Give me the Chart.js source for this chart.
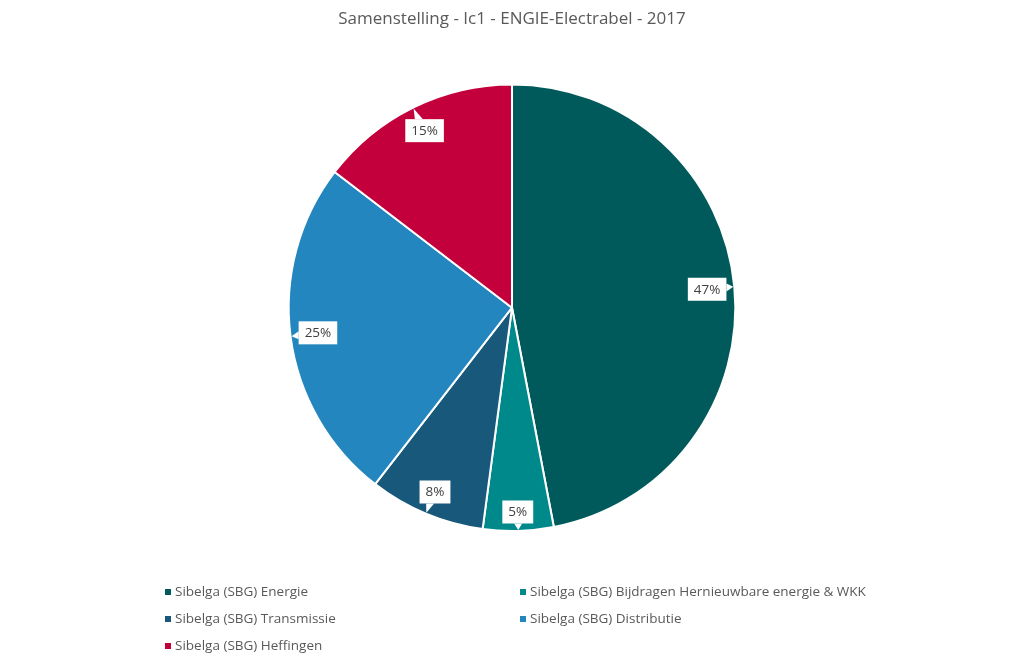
<!DOCTYPE html>
<html>
<head>
<meta charset="utf-8">
<script src="https://cdn.jsdelivr.net/npm/chart.js@4.4.1/dist/chart.umd.min.js"></script>
<style>
  html, body { margin: 0; padding: 0; background: #fff; }
  #wrap { width: 1024px; height: 666px; position: relative; }
</style>
</head>
<body>
<div id="wrap"><canvas id="mycanvas" width="1024" height="666"></canvas></div>
<script>
// data (percent)
var categories = [
	"Sibelga (SBG) Energie",
	"Sibelga (SBG) Bijdragen Hernieuwbare energie & WKK",
	"Sibelga (SBG) Transmissie",
	"Sibelga (SBG) Distributie",
	"Sibelga (SBG) Heffingen"
];
var shares = [47.0, 5.1, 8.4, 24.9, 14.6];
var colors = ["#005a5b", "#00898b", "#18587b", "#2386bf", "#c4003c"];
var chartTitle = "Samenstelling - Ic1 - ENGIE-Electrabel - 2017";

var FONT = "'Open Sans', 'Noto Sans', sans-serif";

// white callout boxes with the rounded percent
var calloutPlugin = {
	id: "callouts",
	afterDatasetsDraw: function(chart) {
		var ctx = chart.ctx;
		var meta = chart.getDatasetMeta(0);
		var total = shares.reduce(function(a, b) { return a + b; }, 0);
		ctx.save();
		ctx.font = "13.5px " + FONT;
		ctx.textAlign = "center";
		ctx.textBaseline = "middle";
		meta.data.forEach(function(arc, i) {
			var p = arc.getProps(["x", "y", "startAngle", "endAngle", "outerRadius"], true);
			var mid = (p.startAngle + p.endAngle) / 2;
			var ux = Math.cos(mid), uy = Math.sin(mid);
			var txt = Math.round(shares[i] / total * 100) + "%";
			var hw = (ctx.measureText(txt).width + 12) / 2;
			var hh = 11.5;
			var proj = Math.abs(ux) * hw + Math.abs(uy) * hh;
			var rl = p.outerRadius - 7 - proj;
			var cx = p.x + ux * rl, cy = p.y + uy * rl;
			var tx = p.x + ux * (p.outerRadius - 1), ty = p.y + uy * (p.outerRadius - 1);

			// tail base on box side facing the target
			var bx, by, b1, b2;
			var sx = Math.abs(ux) * hh, sy = Math.abs(uy) * hw;
			if (sx >= sy) {
				bx = cx + (ux > 0 ? hw : -hw);
				by = cy + uy / Math.abs(ux) * hw;
				by = Math.max(cy - hh + 5, Math.min(cy + hh - 5, by));
				b1 = [bx, by - 4]; b2 = [bx, by + 4];
			} else {
				by = cy + (uy > 0 ? hh : -hh);
				bx = cx + ux / Math.abs(uy) * hh;
				bx = Math.max(cx - hw + 5, Math.min(cx + hw - 5, bx));
				b1 = [bx - 4, by]; b2 = [bx + 4, by];
			}
			ctx.fillStyle = "#ffffff";
			ctx.fillRect(cx - hw, cy - hh, hw * 2, hh * 2);
			ctx.beginPath();
			ctx.moveTo(b1[0], b1[1]);
			ctx.lineTo(tx, ty);
			ctx.lineTo(b2[0], b2[1]);
			ctx.closePath();
			ctx.fill();
			ctx.fillStyle = "#404040";
			ctx.fillText(txt, cx, cy + 0.5);
		});
		ctx.restore();
	}
};

// two-column legend under the pie
var legendPlugin = {
	id: "twoColLegend",
	afterDraw: function(chart) {
		var ctx = chart.ctx;
		ctx.save();
		ctx.font = "13.5px " + FONT;
		ctx.textBaseline = "middle";
		ctx.textAlign = "left";
		var colX = [165, 520];
		var rowY = [592, 619, 646];
		categories.forEach(function(name, i) {
			var x = colX[i % 2], y = rowY[Math.floor(i / 2)];
			ctx.fillStyle = colors[i];
			ctx.fillRect(x, y - 3, 6, 6);
			ctx.fillStyle = "#595959";
			ctx.fillText(name, x + 10, y);
		});
		ctx.restore();
	}
};

var chartdata = {
	labels: categories,
	datasets: [
		{
			data: shares,
			backgroundColor: colors,
			borderColor: "#ffffff",
			borderWidth: 2
		}
	]
};

var ctx = document.getElementById("mycanvas");
var PieGraph = new Chart(ctx, {
	type: "pie",
	data: chartdata,
	plugins: [calloutPlugin, legendPlugin],
	options: {
		responsive: false,
		animation: false,
		layout: { padding: { top: 0, bottom: 134, left: 0, right: 0 } },
		plugins: {
			legend: { display: false },
			tooltip: { enabled: false },
			title: {
				display: true,
				text: chartTitle,
				color: "#595959",
				font: { family: FONT, size: 17, weight: "normal" },
				padding: { top: 9, bottom: 54 }
			}
		}
	}
});
</script>
</body>
</html>
